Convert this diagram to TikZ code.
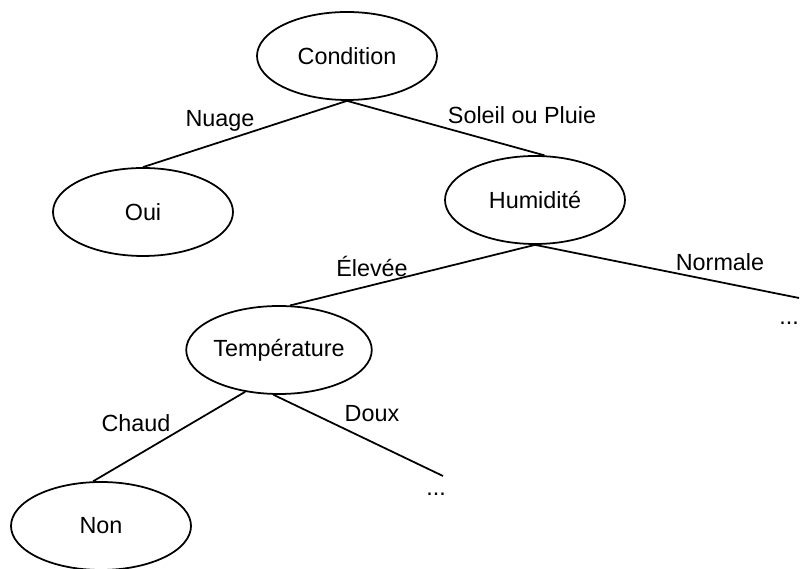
\documentclass[tikz,border=0pt]{standalone}
\usepackage{fontspec}
\setmainfont{Liberation Sans}
\usetikzlibrary{shapes.geometric}

\begin{document}
\begin{tikzpicture}[
    attr/.style={draw, ellipse, line width=1pt, minimum width=3.6cm, minimum height=1.76cm, inner sep=0pt},
    edge/.style={line width=1pt},
    every node/.style={font=\fontsize{13.3}{16}\selectfont}
]
    \useasboundingbox (0,0) rectangle (16,11.38);
    % root
    \node[attr] (cond) at (6.94,10.26) {Condition};
    % level 1
    \node[attr] (oui) at (2.86,7.14) {Oui};
    \node[attr] (hum) at (10.70,7.38) {Humidité};
        % level 2
        \node[attr] (temp) at (5.58,4.38) {Température};
        \coordinate (norm) at (15.98,5.42);
        \node[anchor=east, inner xsep=0.5pt] (dotsr) at (16.00,4.92) {...};
            % level 3
            \node[attr] (non) at (2.02,0.86) {Non};
            \coordinate (doux) at (8.86,1.86);
            \node (dotsd) at (8.72,1.50) {...};

    \draw[edge] (cond.south) -- (oui.north);
    \draw[edge] (cond.south) -- (hum.78);

    \draw[edge] (hum.south) -- (temp.76);
    \draw[edge] (hum.south) -- (norm);

    \draw[edge] (temp.231) -- (non.100);
    \draw[edge] (temp.263) -- (doux);

    \node at (4.40,8.96) {Nuage};
    \node at (10.44,9.08) {Soleil ou Pluie};
    \node at (7.44,6.06) {Élevée};
    \node at (14.40,6.14) {Normale};
    \node at (2.72,2.92) {Chaud};
    \node at (7.44,3.10) {Doux};
\end{tikzpicture}
\end{document}
